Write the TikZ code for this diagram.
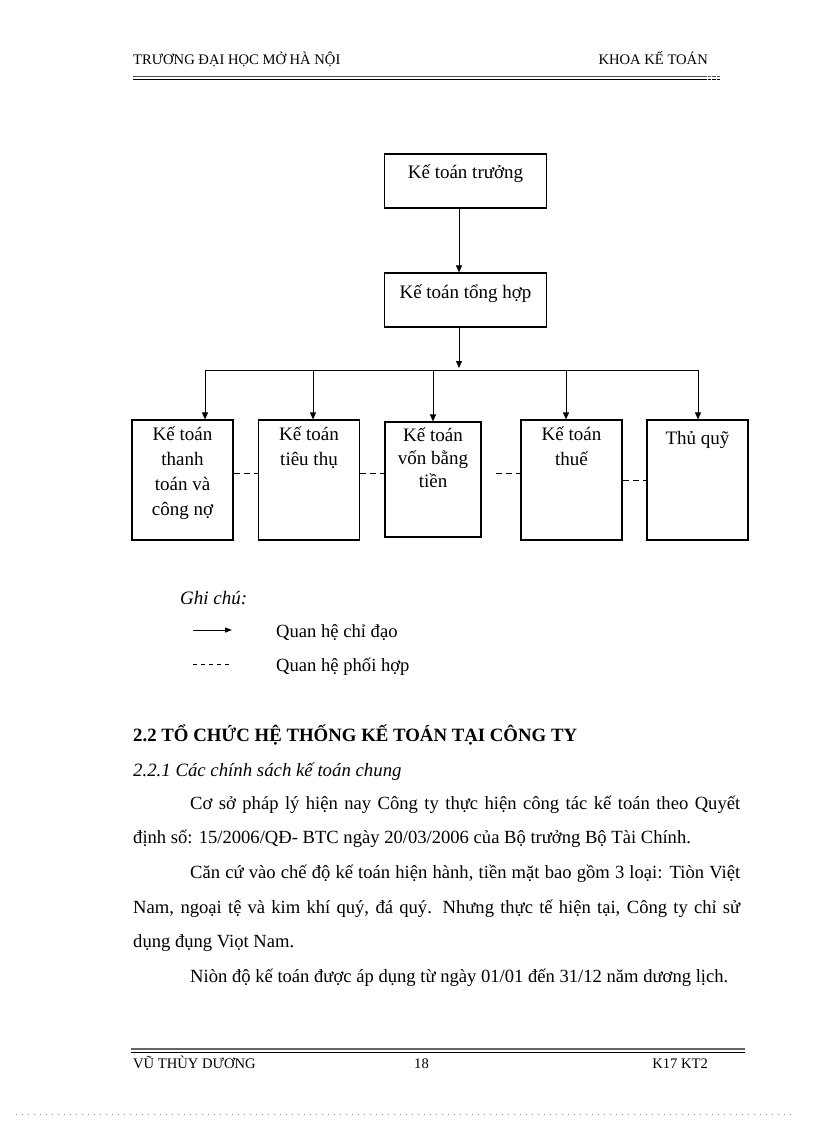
\documentclass[tikz,border=0pt]{standalone}
\usepackage{fontspec}
\setmainfont{Liberation Serif}
\usetikzlibrary{arrows.meta}
\begin{document}
\begin{tikzpicture}[x=1pt,y=-1pt,
  box/.style={draw, line width=1.2pt, inner sep=0pt},
  lbl/.style={anchor=north, align=center, inner sep=0pt, yshift=-7pt,
    font=\fontsize{19}{25}\selectfont, execute at begin node={\rule{0pt}{18pt}}},
  arr/.style={line width=0.9pt, -{Triangle[length=7pt,width=6pt]}},
  coop/.style={line width=0.9pt, dash pattern=on 6pt off 4pt},
  txt/.style={anchor=base west, inner sep=0pt, font=\fontsize{18.6}{22}\selectfont},
  hdr/.style={inner sep=0pt, font=\fontsize{14.6}{16}\selectfont},
]
\useasboundingbox (0,0) rectangle (816,1123);

% header
\node[hdr, anchor=base west] (h1) at (133,65) {TRƯƠNG ĐẠI HỌC MỞ HÀ NỘI};
\node[hdr, anchor=base east] (h2) at (708,65) {KHOA KẾ TOÁN};
\draw[line width=1pt, black!70] (133,76.5) -- (703,76.5);
\draw[line width=1pt] (133,79.5) -- (703,79.5);
\draw[line width=1pt, black!70, dash pattern=on 3.5pt off 1pt] (703,76.5) -- (720,76.5);
\draw[line width=1pt, dash pattern=on 3.5pt off 1pt] (703,79.5) -- (720,79.5);

% top boxes
\node[box, minimum width=162pt, minimum height=54pt] (kt) at (465.5,181) {};
\node[lbl] at (kt.north) {Kế toán trưởng};
\node[box, minimum width=162pt, minimum height=54pt] (th) at (465.5,300) {};
\node[lbl, yshift=-1pt] at (th.north) {Kế toán tổng hợp};

% bottom boxes
\node[box, minimum width=101pt, minimum height=120pt] (b1) at (182.5,480) {};
\node[box, minimum width=101pt, minimum height=120pt] (b2) at (309,480) {};
\node[box, minimum width=96pt, minimum height=115pt] (b3) at (433,479.5) {};
\node[box, minimum width=101pt, minimum height=120pt] (b4) at (571.5,480) {};
\node[box, minimum width=101pt, minimum height=120pt] (b5) at (697.5,480) {};
\node[lbl] at (b1.north) {Kế toán\\thanh\\toán và\\công nợ};
\node[lbl] at (b2.north) {Kế toán\\tiêu thụ};
\node[lbl, yshift=1pt, font=\fontsize{19}{23}\selectfont] at (b3.north) {Kế toán\\vốn bằng\\tiền};
\node[lbl] at (b4.north) {Kế toán\\thuế};
\node[lbl] at (b5.north) {Thủ quỹ};

% connectors
\coordinate (hub) at (459,368);
\draw[arr] (kt.south -| hub) -- (th.north -| hub);
\draw[arr] (th.south -| hub) -- (hub);
\coordinate (c1) at (205,370);
\coordinate (c2) at (313,370);
\coordinate (c3) at (433,370);
\coordinate (c4) at (566,370);
\coordinate (c5) at (698,370);
\draw[line width=0.9pt] (c1) -- (c5);
\foreach \i in {1,...,5}{\draw[arr] (c\i) -- (c\i |- b\i.north);}

\coordinate (d1) at ([yshift=7pt]b1.east);
\coordinate (d2) at ([yshift=7pt]b2.east);
\coordinate (d3) at (496,473);
\draw[coop] (d1) -- (b2.west |- d1);
\draw[coop] (d2) -- (b3.west |- d2);
\draw[coop] (d3) -- (b4.west |- d3);
\draw[coop] (b4.east) -- (b5.west);

% legend
\node[anchor=base west, inner sep=0pt, font=\fontsize{19}{22}\selectfont\itshape] (gc) at (180,604) {Ghi chú:};
\coordinate (la) at (193,630);
\coordinate (lb) at (232,630);
\draw[line width=0.9pt, -{Triangle[length=7pt,width=5pt]}] (la) -- (lb);
\node[txt] (l1) at (276,637) {Quan hệ chỉ đạo};
\coordinate (lc) at (193,664);
\coordinate (ld) at (232,664);
\draw[line width=0.8pt, dash pattern=on 4pt off 4pt] (lc) -- (ld);
\node[txt] (l2) at (276,671) {Quan hệ phối hợp};

% body text
\node[txt, font=\fontsize{18.8}{22}\selectfont\bfseries] (s1) at (133,741) {2.2 TỔ CHỨC HỆ THỐNG KẾ TOÁN TẠI CÔNG TY};
\node[txt, font=\fontsize{18.8}{22}\selectfont\itshape] (s2) at (133,776) {2.2.1 Các chính sách kế toán chung};
\node[txt] (p1) at (190,809) {\hbox to 550pt{Cơ sở pháp lý hiện nay Công ty thực hiện công tác kế toán theo Quyết}};
\node[txt] (p2) at (133,843) {định số: 15/2006/QĐ- BTC ngày 20/03/2006 của Bộ trưởng Bộ Tài Chính.};
\node[txt] (p3) at (190,878) {\hbox to 550pt{Căn cứ vào chế độ kế toán hiện hành, tiền mặt bao gồm 3 loại: Tiòn Việt}};
\node[txt] (p4) at (133,913) {\hbox to 607pt{Nam, ngoại tệ và kim khí quý, đá quý. Nhưng thực tế hiện tại, Công ty chỉ sử}};
\node[txt] (p5) at (133,947) {dụng đụng Viọt Nam.};
\node[txt] (p6) at (190,982) {Niòn độ kế toán được áp dụng từ ngày 01/01 đến 31/12 năm dương lịch.};

% footer
\draw[line width=1.6pt, black!60] (131,1049) -- (745,1049);
\draw[line width=0.9pt] (131,1052.5) -- (745,1052.5);
\node[hdr, anchor=base west] (f1) at (133,1068) {VŨ THÙY DƯƠNG};
\node[hdr, anchor=base west] (f2) at (414,1068) {18};
\node[hdr, anchor=base east] (f3) at (708,1068) {K17 KT2};
\draw[line width=0.8pt, black!45, dash pattern=on 0.8pt off 5.2pt] (16,1114) -- (795,1114);
\end{tikzpicture}
\end{document}
